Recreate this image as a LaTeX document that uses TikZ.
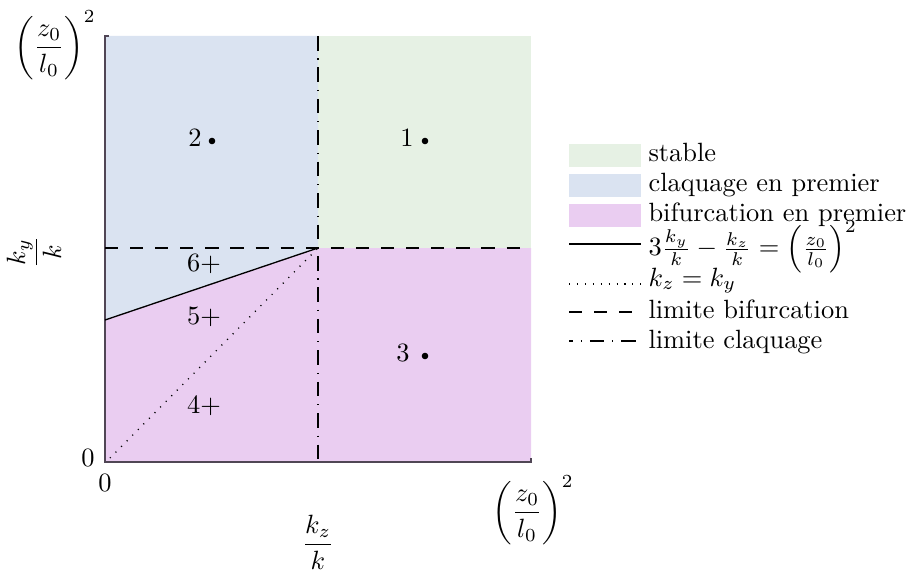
\documentclass[tikz,border=0pt]{standalone}
\usepackage{amsmath}
\usetikzlibrary{calc}
\definecolor{cstable}{RGB}{230,241,228}
\definecolor{cclaq}{RGB}{218,227,241}
\definecolor{cbif}{RGB}{234,205,241}
\definecolor{caxis}{RGB}{80,70,85}
\begin{document}
\begin{tikzpicture}[x=0.0133cm,y=-0.0133cm,
  lbl/.style={inner sep=0pt},
  legtxt/.style={inner sep=0pt,anchor=base west},
  dotm/.style={fill=black,circle,inner sep=0pt,minimum size=2.5pt},
  dashline/.style={dash pattern=on 5pt off 4.5pt,line width=0.45pt},
  dashdotline/.style={dash pattern=on 5.5pt off 3pt on 0.4pt off 3pt,line width=0.45pt},
  dotline/.style={dash pattern=on 0.4pt off 2.6pt,line width=0.5pt},
  solidline/.style={line width=0.5pt}]
\useasboundingbox (0,0) rectangle (911,573);
% coordinates
\coordinate (O) at (105,462);
\coordinate (TL) at (105,36);
\coordinate (BR) at (531,462);
\coordinate (TR) at (531,36);
\coordinate (C) at (318,248);
\coordinate (L) at (105,248);
\coordinate (R) at (531,248);
\coordinate (T) at (318,36);
\coordinate (B) at (318,462);
\coordinate (S) at (105,320);
% regions
\fill[cstable] (C) rectangle (TR);
\fill[cclaq] (TL) -- (T) -- (C) -- (S) -- cycle;
\fill[cbif] (S) -- (C) -- (R) -- (BR) -- (O) -- cycle;
% axes
\draw[caxis,line width=0.6pt] ($(TL)+(4,0)$) -- (TL) -- (O) -- (BR) -- ($(BR)+(0,-4)$);
% lines
\draw[dashline] (L) -- (R);
\draw[dashdotline] (T) -- (B);
\draw[solidline] (S) -- (C);
\draw[dotline] ($(O)+(5,-4)$) -- (C);
% region labels
\node[lbl] (n2) at (195,138) {2};
\node[dotm] (d2) at (212,141) {};
\node[lbl] (n1) at (407,138) {1};
\node[dotm] (d1) at (425,141) {};
\node[lbl] (n3) at (403,353) {3};
\node[dotm] (d3) at (425,356) {};
\node[lbl] (n6) at (204,264) {6+};
\node[lbl] (n5) at (204,317) {5+};
\node[lbl] (n4) at (204,406) {4+};
% axis labels
\node[lbl] (y0) at (88,458) {0};
\node[lbl] (x0) at (105,483) {0};
\node[lbl] (ymax) at (55,45) {$\displaystyle\left(\frac{z_0}{l_0}\right)^2$};
\node[lbl] (xmax) at (533,510) {$\displaystyle\left(\frac{z_0}{l_0}\right)^2$};
\node[lbl,rotate=90] (ylab) at (34,252) {$\displaystyle\frac{k_y}{k}$};
\node[lbl] (xlab) at (318,542) {$\displaystyle\frac{k_z}{k}$};
% legend
\fill[cstable] (569,144) rectangle (641,167);
\fill[cclaq] (569,174) rectangle (641,197);
\fill[cbif] (569,204) rectangle (641,227);
\node[legtxt] (l1) at (648,162) {stable};
\node[legtxt] (l2) at (648,192) {claquage en premier};
\node[legtxt] (l3) at (648,221) {bifurcation en premier};
\coordinate (a1) at (569,244); \coordinate (b1) at (641,244);
\draw[solidline] (a1) -- (b1);
\node[legtxt] (l4) at (648,256) {$3\frac{k_y}{k}-\frac{k_z}{k}=\left(\frac{z_0}{l_0}\right)^2$};
\coordinate (a2) at (569,284); \coordinate (b2) at (641,284);
\draw[dotline] (a2) -- (b2);
\node[legtxt] (l5) at (648,286) {$k_z=k_y$};
\coordinate (a3) at (569,312); \coordinate (b3) at (641,312);
\draw[dashline] (a3) -- (b3);
\node[legtxt] (l6) at (648,318) {limite bifurcation};
\coordinate (a4) at (569,341); \coordinate (b4) at (641,341);
\draw[dashdotline,dash phase=4pt] (a4) -- (b4);
\node[legtxt] (l7) at (648,348) {limite claquage};
\end{tikzpicture}
\end{document}
